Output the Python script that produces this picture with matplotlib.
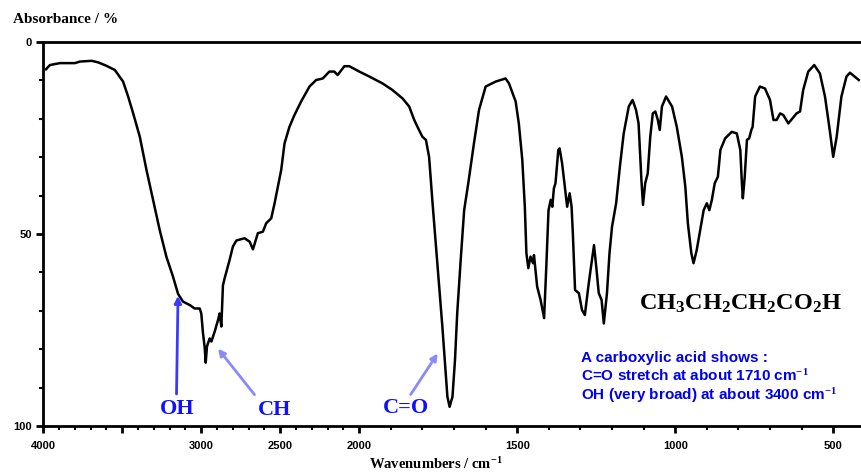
import numpy as np
import matplotlib
matplotlib.use("Agg")
import matplotlib.pyplot as plt
from matplotlib.ticker import FixedLocator, FixedFormatter

# butanoic acid IR spectrum
wavenumber = [3983, 3958, 3895, 3800, 3768, 3694, 3653, 3600, 3547, 3495, 3463, 3431,
              3389, 3347, 3305, 3263, 3221, 3179, 3147, 3116, 3073, 3042, 3010, 3000,
              2989, 2979, 2972, 2964, 2947, 2936, 2915, 2894, 2884, 2873, 2863, 2852,
              2821, 2800, 2778, 2726, 2694, 2673, 2642, 2610, 2589, 2557, 2536, 2515,
              2494, 2473, 2442, 2410, 2368, 2315, 2273, 2231, 2189, 2158, 2137, 2094,
              2063, 2000, 1968, 1926, 1895, 1863, 1842, 1826, 1811, 1800, 1789, 1779,
              1768, 1758, 1747, 1737, 1728, 1721, 1714, 1705, 1697, 1690, 1679, 1668,
              1655, 1637, 1621, 1600, 1568, 1537, 1526, 1505, 1495, 1484, 1476, 1471,
              1465, 1458, 1450, 1447, 1437, 1426, 1415, 1408, 1401, 1394, 1389, 1384,
              1379, 1370, 1366, 1358, 1347, 1342, 1334, 1328, 1324, 1317, 1305, 1295,
              1286, 1275, 1268, 1257, 1250, 1242, 1233, 1226, 1216, 1208, 1200, 1187,
              1174, 1163, 1147, 1135, 1124, 1116, 1107, 1102, 1095, 1087, 1079, 1071,
              1063, 1055, 1049, 1042, 1029, 1010, 995, 979, 968, 960, 949, 942,
              932, 921, 910, 900, 892, 884, 875, 865, 857, 842, 821, 805,
              794, 789, 786, 780, 773, 766, 759, 755, 747, 732, 716, 700,
              689, 679, 668, 658, 642, 629, 616, 605, 595, 579, 560, 542,
              526, 511, 500, 489, 474, 458, 447, 432, 419]
absorbance = [7.1, 6.0, 5.5, 5.5, 5.1, 4.9, 5.3, 6.2, 7.3, 10.3, 14.2, 18.6,
              24.7, 33.3, 41.1, 49.0, 55.9, 61.1, 65.6, 67.6, 68.5, 69.4, 69.4, 70.7,
              75.9, 79.3, 83.5, 79.3, 77.2, 78.0, 75.4, 72.4, 70.7, 74.1, 63.4, 61.5,
              56.8, 53.3, 51.7, 51.1, 52.0, 54.0, 49.8, 49.4, 47.2, 45.9, 42.0, 37.7,
              33.3, 26.4, 22.1, 19.0, 15.5, 11.6, 9.9, 9.5, 7.7, 7.7, 8.6, 6.3,
              6.3, 7.7, 9.0, 10.8, 12.5, 14.7, 16.8, 20.3, 22.9, 24.7, 25.5, 29.9,
              42.0, 52.4, 63.7, 74.1, 84.6, 92.4, 95.0, 92.4, 82.8, 70.7, 56.8, 43.8,
              36.8, 26.4, 17.7, 11.6, 10.3, 9.5, 10.8, 15.5, 21.2, 30.7, 42.9, 55.0,
              58.9, 55.9, 57.6, 55.5, 63.7, 67.2, 71.9, 58.5, 43.8, 41.1, 42.9, 38.1,
              36.8, 28.1, 27.7, 31.6, 39.4, 42.9, 39.4, 42.9, 49.8, 64.6, 65.4, 69.8,
              71.1, 63.7, 59.4, 52.9, 58.5, 65.4, 67.2, 73.3, 65.4, 55.0, 48.1, 42.0,
              31.6, 23.8, 16.8, 15.1, 17.7, 21.2, 35.9, 42.4, 36.8, 34.2, 24.7, 18.6,
              18.1, 20.3, 22.9, 16.8, 14.2, 16.8, 22.1, 29.9, 37.7, 47.2, 55.0, 57.6,
              54.2, 49.0, 43.8, 42.0, 43.8, 41.1, 36.8, 35.1, 28.1, 25.1, 23.4, 23.8,
              28.1, 36.8, 40.7, 35.1, 25.5, 25.1, 22.9, 22.1, 14.2, 11.6, 12.1, 15.1,
              20.3, 20.3, 18.6, 19.0, 21.2, 19.9, 18.6, 18.1, 12.5, 7.7, 6.0, 8.2,
              14.2, 22.9, 29.9, 24.7, 14.2, 9.0, 8.0, 9.0, 9.9]

major_ticks = [4000, 3500, 3000, 2500, 2000, 1500, 1000, 500]
major_labels = ["4000", "", "3000", "2500", "2000", "1500", "1000", "500"]
y_ticks = [0, 50, 100]

plt.rcParams['mathtext.fontset'] = 'custom'
plt.rcParams['mathtext.rm'] = 'Liberation Serif:bold'
plt.rcParams['mathtext.it'] = 'Liberation Serif:bold'
plt.rcParams['mathtext.bf'] = 'Liberation Serif:bold'


# scale halves above 2000 cm-1
def fwd(x):
    x = np.asarray(x, dtype=float)
    return np.where(x <= 2000, x, 2000 + (x - 2000) / 2)


def inv(x):
    x = np.asarray(x, dtype=float)
    return np.where(x <= 2000, x, 2000 + 2 * (x - 2000))


fig = plt.figure(figsize=(8.61, 4.72), dpi=100)
ax = fig.add_axes([43.3 / 861, 1 - 426 / 472, 1 - 43.3 / 861, 384 / 472])
ax.set_xscale('function', functions=(fwd, inv))
ax.plot(wavenumber, absorbance, color='black', lw=1.8)
ax.set_xlim(4000, 412)
ax.set_ylim(100, 0)

for s in ['left', 'top', 'bottom']:
    ax.spines[s].set_linewidth(2)
ax.spines['right'].set_visible(False)

ax.xaxis.set_major_locator(FixedLocator(major_ticks))
ax.xaxis.set_major_formatter(FixedFormatter(major_labels))
ax.xaxis.set_minor_locator(FixedLocator([w for w in range(500, 4000, 100) if w % 500]))
ax.yaxis.set_major_locator(FixedLocator(y_ticks))
ax.yaxis.set_minor_locator(FixedLocator(range(10, 100, 10)))
ax.tick_params(which='major', direction='out', length=5, width=2, pad=6)
ax.tick_params(which='minor', direction='out', length=3, width=1.5)
ax.tick_params(axis='y', pad=3)
for lab in ax.get_xticklabels() + ax.get_yticklabels():
    lab.set_fontfamily('Liberation Sans')
    lab.set_fontweight('bold')
    lab.set_fontsize(8)

fig.text(13 / 861, 1 - 23 / 472, "Absorbance / %", fontsize=11, fontweight='bold',
         family='Liberation Serif', va='baseline')
fig.text(436 / 861, 1 - 469 / 472, "Wavenumbers / cm$^{-1}$", fontsize=10.5,
         fontweight='bold', family='Liberation Serif', ha='center', va='baseline')

# annotations
lab_font = dict(family='Liberation Serif', fontweight='bold', fontsize=16, color='#1010ff',
                ha='center', va='center')
ax.annotate("", xy=(3147, 65.4), xytext=(3157, 92.4),
            arrowprops=dict(arrowstyle='-|>', color='#3a3aff', lw=2, mutation_scale=10))
ax.text(3150, 95.5, "OH", **lab_font)
ax.annotate("", xy=(2905, 79.3), xytext=(2652, 92.4),
            arrowprops=dict(arrowstyle='-|>', color='#8a8aff', lw=2, mutation_scale=10))
ax.text(2536, 95.8, "CH", **lab_font)
ax.annotate("", xy=(1747, 80.5), xytext=(1842, 92.4),
            arrowprops=dict(arrowstyle='-|>', color='#8a8aff', lw=2, mutation_scale=10))
ax.text(1852, 95.3, "C=O", **lab_font)

ax.text(1116, 69.8, "CH$_3$CH$_2$CH$_2$CO$_2$H", family='Liberation Serif',
        fontweight='bold', fontsize=17.5, va='baseline', ha='left')

block = ["A carboxylic acid shows :",
         "C=O stretch at about 1710 cm$^{-1}$",
         "OH (very broad) at about 3400 cm$^{-1}$"]
for txt, yy in zip(block, [83.3, 88.3, 93.1]):
    ax.text(1299, yy, txt, family='Liberation Sans', fontweight='bold', fontsize=11,
            color='#0000ee', va='baseline', ha='left')

fig.savefig("out.png", dpi=100)
